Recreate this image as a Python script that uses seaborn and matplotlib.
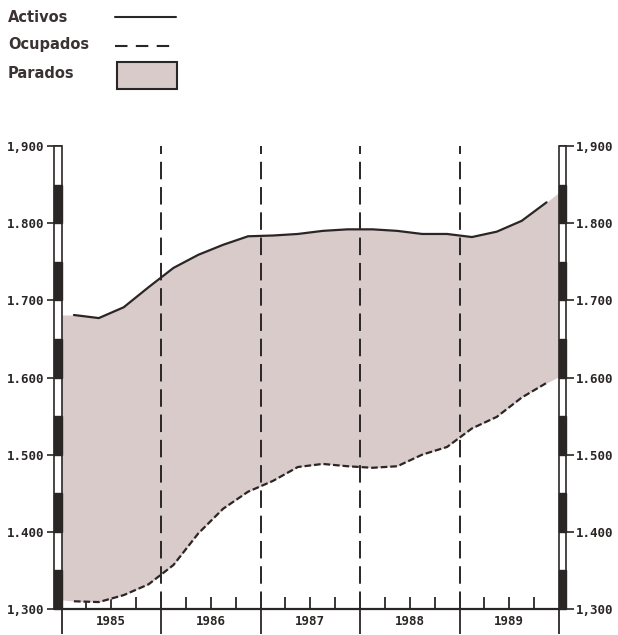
import numpy as np
import pandas as pd
import matplotlib.pyplot as plt
import seaborn as sns
from matplotlib.patches import Rectangle
from matplotlib.lines import Line2D
from matplotlib.transforms import blended_transform_factory

# datos trimestrales (miles de personas)
anios = ["1985", "1986", "1987", "1988", "1989"]
trimestre = np.arange(20) + 0.5   # centro de cada trimestre
activos = [1681, 1677, 1691, 1717, 1742, 1759, 1772, 1783, 1784, 1786,
           1790, 1792, 1792, 1790, 1786, 1786, 1782, 1789, 1803, 1827]
ocupados = [1310, 1309, 1318, 1332, 1357, 1398, 1430, 1452, 1466, 1484,
            1488, 1485, 1483, 1485, 1500, 1510, 1534, 1549, 1574, 1593]
# el area de parados llega hasta los dos ejes verticales
borde_izq = (1312, 1681)
borde_der = (1601, 1840)

yticks = [1300, 1400, 1500, 1600, 1700, 1800, 1900]
ytick_labels = ["1,300", "1.400", "1.500", "1.600", "1.700", "1.800", "1,900"]

tinta = "#2b2626"
relleno = "#d9cbc9"

sns.set_theme(style="white")
plt.rcParams['font.family'] = ['DejaVu Sans']

W, H = 618, 635
fig = plt.figure(figsize=(W / 100, H / 100), dpi=100)
x0, x1, ytop, ybot = 61.5, 559, 146, 609
ax = fig.add_axes([x0 / W, 1 - ybot / H, (x1 - x0) / W, (ybot - ytop) / H])
ax.set_facecolor("white")

# area de parados entre activos y ocupados
xs = [0] + list(trimestre) + [20]
sup = [borde_izq[1]] + activos + [borde_der[1]]
inf = [borde_izq[0]] + ocupados + [borde_der[0]]
ax.fill_between(xs, inf, sup, color=relleno, lw=0, zorder=1)

df = pd.DataFrame({"t": trimestre, "activos": activos, "ocupados": ocupados})
sns.lineplot(data=df, x="t", y="activos", ax=ax, color=tinta, lw=1.6, zorder=3)
sns.lineplot(data=df, x="t", y="ocupados", ax=ax, color=tinta, lw=1.6,
             linestyle=(0, (3, 1.3)), zorder=3)

# separacion de anios
for v in range(4, 20, 4):
    ax.axvline(v, color=tinta, lw=1.4, ls=(0, (9, 4)), zorder=2)

ax.set_xlim(0, 20)
ax.set_ylim(1300, 1900)
ax.set_xlabel("")
ax.set_ylabel("")
for s in ["top", "right", "left"]:
    ax.spines[s].set_visible(False)
ax.spines["bottom"].set_color(tinta)
ax.spines["bottom"].set_linewidth(1.6)

# eje y a ambos lados
mono = {"family": "DejaVu Sans Mono", "weight": "bold", "size": 9}
ax.set_yticks(yticks, ytick_labels)
ax.tick_params(axis="y", which="major", left=True, right=True, labelleft=True,
               labelright=True, direction="out", length=11, width=1.2,
               color=tinta, pad=1, labelcolor=tinta)
for t in ax.yaxis.get_major_ticks():
    t.label1.set_fontproperties(mono)
    t.label2.set_fontproperties(mono)

# eje x: anios centrados, marcas trimestrales hacia dentro
ax.set_xticks([2, 6, 10, 14, 18], anios)
ax.set_xticks([q for q in range(1, 20) if q % 4], minor=True)
ax.xaxis.remove_overlapping_locs = False
ax.tick_params(axis="x", which="major", bottom=True, length=0, pad=4, labelcolor=tinta)
ax.tick_params(axis="x", which="minor", bottom=True, direction="in", length=9,
               width=1.3, color=tinta)
for lab in ax.get_xticklabels():
    lab.set_fontproperties(mono)

sec = ax.secondary_xaxis("bottom")
sec.set_xticks(range(0, 21, 4), [""] * 6)
sec.tick_params(direction="out", length=18, width=1.3, color=tinta)
sec.spines["bottom"].set_visible(False)

# barras de escala a ambos lados
tr = blended_transform_factory(ax.transAxes, ax.transData)
px = 1 / (x1 - x0)
for bx, bw in [(-8 * px, 8 * px), (1.0, 7 * px)]:
    ax.add_patch(Rectangle((bx, 1300), bw, 600, facecolor="white", edgecolor=tinta,
                           lw=1.2, transform=tr, clip_on=False, zorder=4))
    for v in range(1300, 1900, 100):
        ax.add_patch(Rectangle((bx, v), bw, 50, facecolor=tinta, edgecolor=tinta,
                               lw=1.0, transform=tr, clip_on=False, zorder=5))

# leyenda
ley = {"fontsize": 10.5, "fontweight": "bold", "color": "#3b3333", "va": "center"}
fig.text(8 / W, 1 - 17 / H, "Activos", **ley)
fig.text(8 / W, 1 - 45 / H, "Ocupados", **ley)
fig.text(8 / W, 1 - 74 / H, "Parados", **ley)
fig.add_artist(Line2D([115 / W, 176 / W], [1 - 17 / H] * 2, color=tinta, lw=1.5))
fig.add_artist(Line2D([115 / W, 176 / W], [1 - 46 / H] * 2, color=tinta, lw=1.5,
                      ls=(0, (6, 4))))
fig.add_artist(Rectangle((117 / W, 1 - 89 / H), 60 / W, 27 / H, facecolor=relleno,
                         edgecolor=tinta, lw=1.5, transform=fig.transFigure))

fig.savefig("out.png", dpi=100, facecolor="white")
